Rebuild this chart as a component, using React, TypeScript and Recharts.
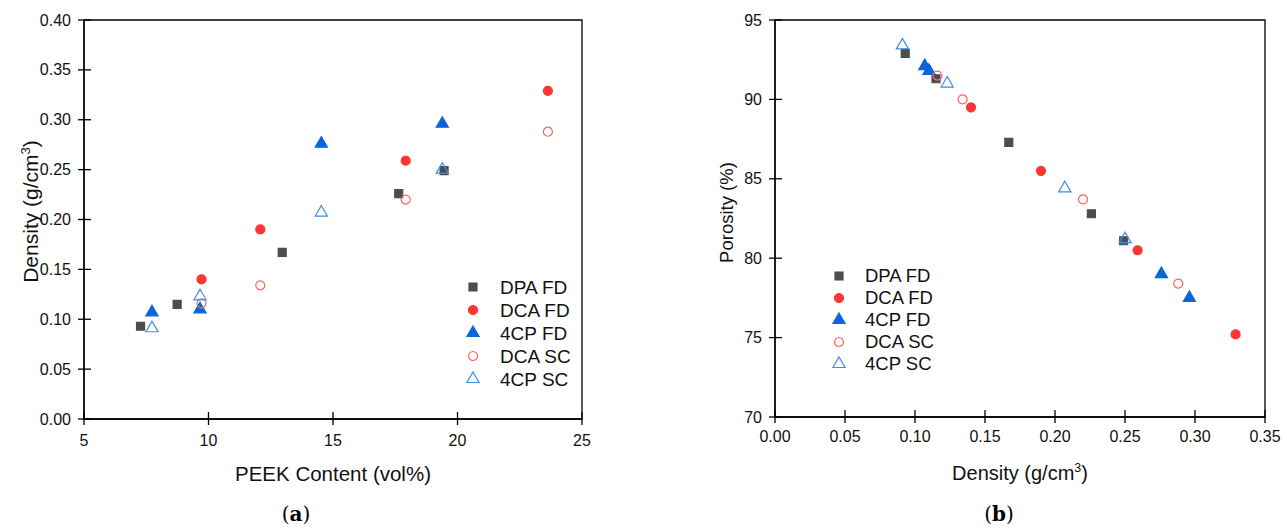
import React from 'react';
import { ScatterChart, Scatter, XAxis, YAxis, ReferenceArea, Customized, Symbols } from 'recharts';

// panel (a): PEEK content vs density
const dpaPeek = [7.27, 8.74, 12.96, 17.64, 19.46];
const dpaDensity = [0.093, 0.115, 0.167, 0.226, 0.249];
const dpaPorosity = [92.9, 91.3, 87.3, 82.8, 81.1];

const dcaFdPeek = [9.72, 12.08, 17.92, 23.63];
const dcaFdDensity = [0.14, 0.19, 0.259, 0.329];
const dcaFdPorosity = [89.5, 85.5, 80.5, 75.2];

const cpFdPeek = [7.73, 9.66, 14.53, 19.39];
const cpFdDensity = [0.107, 0.11, 0.276, 0.296];
const cpFdPorosity = [92.1, 91.8, 79.0, 77.5];

const dcaScPeek = [9.72, 12.08, 17.92, 23.63];
const dcaScDensity = [0.116, 0.134, 0.22, 0.288];
const dcaScPorosity = [91.5, 90.0, 83.7, 78.4];

const cpScPeek = [7.73, 9.66, 14.53, 19.39];
const cpScDensity = [0.091, 0.123, 0.207, 0.25];
const cpScPorosity = [93.4, 91.0, 84.4, 81.2];

const peekTicks = [5, 10, 15, 20, 25];
const densityTicks = [0, 0.05, 0.1, 0.15, 0.2, 0.25, 0.3, 0.35, 0.4];
const densityTicksB = [0, 0.05, 0.1, 0.15, 0.2, 0.25, 0.3, 0.35];
const porosityTicks = [70, 75, 80, 85, 90, 95];

const zip = (xs: number[], ys: number[]) => xs.map((x, i) => ({ x, y: ys[i] }));

const series = [
    { name: 'DPA FD', shape: 'square', fill: '#4d4d4d', stroke: '#4d4d4d', a: zip(dpaPeek, dpaDensity), b: zip(dpaDensity, dpaPorosity) },
    { name: 'DCA FD', shape: 'circle', fill: '#ff3535', stroke: '#ff3535', a: zip(dcaFdPeek, dcaFdDensity), b: zip(dcaFdDensity, dcaFdPorosity) },
    { name: '4CP FD', shape: 'triangle', fill: '#0a64dc', stroke: '#0a64dc', a: zip(cpFdPeek, cpFdDensity), b: zip(cpFdDensity, cpFdPorosity) },
    { name: 'DCA SC', shape: 'circle', fill: 'none', stroke: '#ff6262', a: zip(dcaScPeek, dcaScDensity), b: zip(dcaScDensity, dcaScPorosity) },
    { name: '4CP SC', shape: 'triangle', fill: 'none', stroke: '#3f8be6', a: zip(cpScPeek, cpScDensity), b: zip(cpScDensity, cpScPorosity) },
];

const FONT = "'Liberation Sans', Arial, sans-serif";
const INK = '#111';

const XTick = (p: any) => {
    const { x, y, payload, fmt, off } = p;
    return (
        <g>
            <line x1={x} x2={x} y1={y - 7} y2={y + 6} stroke="#000" strokeWidth={1.3} />
            <text x={x} y={y + off} textAnchor="middle" fontSize={16} fontFamily={FONT} fill={INK}>
                {fmt(payload.value)}
            </text>
        </g>
    );
};

const YTick = (p: any) => {
    const { x, y, payload, fmt } = p;
    return (
        <g>
            <line x1={x - 6} x2={x + 7} y1={y} y2={y} stroke="#000" strokeWidth={1.3} />
            <text x={x - 13} y={y} dy="0.35em" textAnchor="end" fontSize={16} fontFamily={FONT} fill={INK}>
                {fmt(payload.value)}
            </text>
        </g>
    );
};

const XTitle = ({ viewBox, text, sup, dy, size }: any) => {
    const { x, y, width } = viewBox;
    return (
        <text x={x + width / 2} y={y + dy} textAnchor="middle" fontSize={size} fontFamily={FONT} fill={INK}>
            <tspan>{text}</tspan>
            {sup && <tspan dy={-8} fontSize={size * 0.62}>{sup}</tspan>}
            {sup && <tspan dy={8}>)</tspan>}
        </text>
    );
};

const YTitle = ({ viewBox, text, sup, dx, cy, size }: any) => {
    const { x, y, height } = viewBox;
    const tx = x + dx;
    const ty = y + height / 2 + cy;
    return (
        <text x={tx} y={ty} transform={`rotate(-90 ${tx} ${ty})`} textAnchor="middle" fontSize={size} fontFamily={FONT} fill={INK}>
            <tspan>{text}</tspan>
            {sup && <tspan dy={-8} fontSize={size * 0.62}>{sup}</tspan>}
            {sup && <tspan dy={8}>)</tspan>}
        </text>
    );
};

const LegendBlock = ({ ix, tx, y0, gap, size }: any) => (
    <g>
        {series.map((s, i) => (
            <g key={s.name}>
                <Symbols cx={ix} cy={y0 + i * gap} type={s.shape as any} size={64} fill={s.fill} stroke={s.stroke} strokeWidth={1.2} />
                <text x={tx} y={y0 + i * gap} dy="0.35em" fontSize={size} fontFamily={FONT} fill={INK}>{s.name}</text>
            </g>
        ))}
    </g>
);

const Caption = ({ x, letter }: any) => (
    <text x={x} y={521} textAnchor="middle" fontSize={20} fontFamily="'DejaVu Serif', serif" fill="#000">
        <tspan>(</tspan><tspan fontWeight="bold">{letter}</tspan><tspan>)</tspan>
    </text>
);

const f2 = (v: number) => v.toFixed(2);
const f0 = (v: number) => String(v);

export default function App() {
    return (
        <div style={{ position: 'absolute', left: 0, top: 0, width: 1287, height: 529, background: '#fff' }}>
            <div style={{ position: 'absolute', left: 0, top: 0 }}>
                <ScatterChart width={600} height={529} margin={{ top: 20, right: 18, left: 0, bottom: 0 }}>
                    <XAxis
                        type="number" dataKey="x" domain={[5, 25]} ticks={peekTicks} interval={0}
                        height={110} tickSize={0} tickMargin={0} tickLine={false}
                        axisLine={{ stroke: '#000', strokeWidth: 1.3 }}
                        tick={(p: any) => <XTick {...p} fmt={f0} off={27} />}
                        label={{ content: (p: any) => <XTitle {...p} text="PEEK Content (vol%)" dy={62} size={20.5} /> }}
                    />
                    <YAxis
                        type="number" dataKey="y" domain={[0, 0.4]} ticks={densityTicks} interval={0}
                        width={84} tickSize={0} tickMargin={0} tickLine={false}
                        axisLine={{ stroke: '#000', strokeWidth: 1.3 }}
                        tick={(p: any) => <YTick {...p} fmt={f2} />}
                        label={{ content: (p: any) => <YTitle {...p} text="Density (g/cm" sup="3" dx={38} cy={-8} size={21} /> }}
                    />
                    <ReferenceArea x1={5} x2={25} y1={0} y2={0.4} fill="none" stroke="#000" strokeWidth={1.3} />
                    {series.map((s) => (
                        <Scatter key={s.name} name={s.name} data={s.a} shape={s.shape as any} fill={s.fill} stroke={s.stroke} strokeWidth={1.2} isAnimationActive={false} />
                    ))}
                    <Customized component={<LegendBlock ix={473} tx={500} y0={287} gap={23} size={19} />} />
                    <Customized component={<Caption x={296} letter="a" />} />
                </ScatterChart>
            </div>
            <div style={{ position: 'absolute', left: 690, top: 0 }}>
                <ScatterChart width={597} height={529} margin={{ top: 20, right: 22, left: 0, bottom: 0 }}>
                    <XAxis
                        type="number" dataKey="x" domain={[0, 0.35]} ticks={densityTicksB} interval={0}
                        height={112} tickSize={0} tickMargin={0} tickLine={false}
                        axisLine={{ stroke: '#000', strokeWidth: 1.3 }}
                        tick={(p: any) => <XTick {...p} fmt={f2} off={25} />}
                        label={{ content: (p: any) => <XTitle {...p} text="Density (g/cm" sup="3" dy={63} size={20} /> }}
                    />
                    <YAxis
                        type="number" dataKey="y" domain={[70, 95]} ticks={porosityTicks} interval={0}
                        width={85} tickSize={0} tickMargin={0} tickLine={false}
                        axisLine={{ stroke: '#000', strokeWidth: 1.3 }}
                        tick={(p: any) => <YTick {...p} fmt={f0} />}
                        label={{ content: (p: any) => <YTitle {...p} text="Porosity (%)" dx={43} cy={-6} size={18.5} /> }}
                    />
                    <ReferenceArea x1={0} x2={0.35} y1={70} y2={95} fill="none" stroke="#000" strokeWidth={1.3} />
                    {series.map((s) => (
                        <Scatter key={s.name} name={s.name} data={s.b} shape={s.shape as any} fill={s.fill} stroke={s.stroke} strokeWidth={1.2} isAnimationActive={false} />
                    ))}
                    <Customized component={<LegendBlock ix={149} tx={175} y0={276} gap={22} size={18.5} />} />
                    <Customized component={<Caption x={309} letter="b" />} />
                </ScatterChart>
            </div>
        </div>
    );
}
